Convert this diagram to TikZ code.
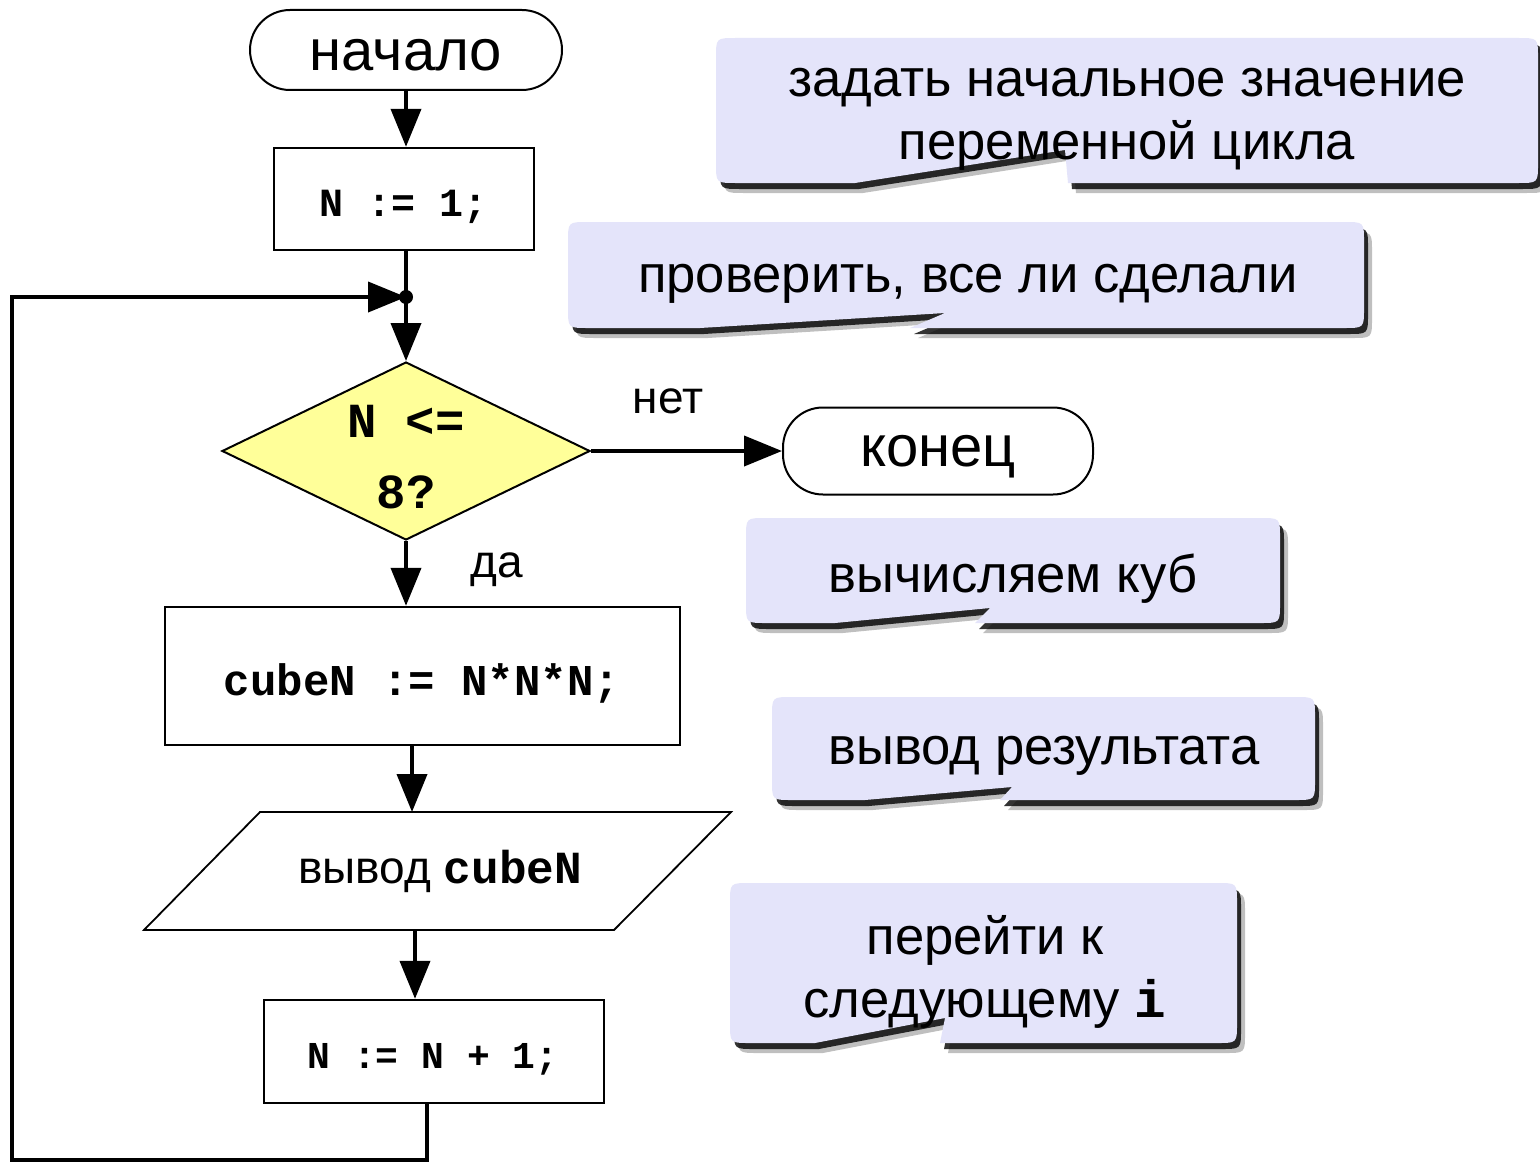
\documentclass[tikz,border=0pt]{standalone}
\usepackage{fontspec}
\setmainfont{Liberation Sans}
\newfontfamily\monofam{Liberation Mono}
\usetikzlibrary{arrows.meta,shapes.geometric}
\definecolor{lav}{RGB}{228,228,250}
\definecolor{ylw}{RGB}{255,255,153}
% x1 y1 x2 y2 notchLeft tipX tipY notchRight
\newcommand\bubble[8]{%
  \fill[black,opacity=.25,shift={(8,10)}] ({#1+20},#2) -- ({#3-20},#2) .. controls (#3,#2) .. (#3,{#2+20}) -- (#3,{#4-20}) .. controls (#3,#4) .. ({#3-20},#4) -- (#8,#4) -- (#6,#7) -- (#5,#4) -- ({#1+20},#4) .. controls (#1,#4) .. (#1,{#4-20}) -- (#1,{#2+20}) .. controls (#1,#2) .. ({#1+20},#2) -- cycle;
  \fill[black,opacity=.8,shift={(4,6)}] ({#1+20},#2) -- ({#3-20},#2) .. controls (#3,#2) .. (#3,{#2+20}) -- (#3,{#4-20}) .. controls (#3,#4) .. ({#3-20},#4) -- (#8,#4) -- (#6,#7) -- (#5,#4) -- ({#1+20},#4) .. controls (#1,#4) .. (#1,{#4-20}) -- (#1,{#2+20}) .. controls (#1,#2) .. ({#1+20},#2) -- cycle;
  \fill[lav] ({#1+20},#2) -- ({#3-20},#2) .. controls (#3,#2) .. (#3,{#2+20}) -- (#3,{#4-20}) .. controls (#3,#4) .. ({#3-20},#4) -- (#8,#4) -- (#6,#7) -- (#5,#4) -- ({#1+20},#4) .. controls (#1,#4) .. (#1,{#4-20}) -- (#1,{#2+20}) .. controls (#1,#2) .. ({#1+20},#2) -- cycle;
}
\tikzset{
  conn/.style={line width=2pt},
  arr/.style={line width=2pt,-{Triangle[length=19pt,width=15pt]}},
  term/.style={draw,line width=1pt,rounded corners=20pt,inner sep=0pt,fill=white},
  termtext/.style={font=\fontsize{29pt}{34pt}\selectfont,inner sep=0pt},
  proc/.style={draw,line width=1.2pt,fill=white,inner sep=0pt},
  code/.style={font=\monofam\bfseries\fontsize{#1}{35.5pt}\selectfont,inner sep=0pt},
  lbl/.style={font=\fontsize{23pt}{27pt}\selectfont,inner sep=0pt},
  bub/.style={font=\fontsize{26.3pt}{31.5pt}\selectfont,align=center,inner sep=0pt}
}
\begin{document}
\begin{tikzpicture}[x=0.5pt,y=-0.5pt]
\useasboundingbox (0,0) rectangle (1540,1161);
\fill[white] (0,0) rectangle (1540,1161);

% callouts
\bubble{716}{38}{1538}{183}{855}{1065}{150}{1068}
\node[bub] (c1) at (1127,119) {задать начальное значение\\переменной цикла};
\bubble{568}{222}{1364}{328}{700}{945}{313}{910}
\node[bub] (c2) at (968,284) {проверить, все ли сделали};
\bubble{746}{518}{1280}{623}{835}{990}{608}{975}
\node[bub] (c3) at (1013,579) {вычисляем куб};
\bubble{772}{697}{1315}{800}{865}{1012}{787}{1000}
\node[bub] (c4) at (1044,756) {вывод результата};
\bubble{730}{883}{1237}{1043}{815}{945}{1018}{940}
\node[bub] (c5) at (985,972) {перейти к\\следующему {\monofam\bfseries i}};

% flowchart
\node[term,minimum width=156pt,minimum height=40pt] (start) at (406,50) {};
\node[termtext] (startt) at (406,55) {начало};
\node[proc,minimum width=130pt,minimum height=51pt] (n1) at (404,199) {};
\node[code=20pt] (n1t) at (404,207) {N := 1;};
\coordinate (j) at (406,297);
\node[diamond,draw,fill=ylw,line width=1pt,minimum width=184pt,minimum height=89pt,inner sep=0pt] (cond) at (406,451) {};
\node[code=24.5pt,align=center] (condt) at (406,457) {N <=\\8?};
\node[term,minimum width=155pt,minimum height=43.5pt] (end) at (938,451) {};
\node[termtext] (endt) at (938,457) {конец};
\node[proc,minimum width=257.5pt,minimum height=69pt] (cube) at (422.5,676) {};
\node[code=22pt] (cubet) at (422,683) {cubeN := N*N*N;};
\coordinate (pTL) at (260,812);
\coordinate (pTR) at (731,812);
\coordinate (pBR) at (614,930);
\coordinate (pBL) at (144,930);
\draw[line width=0.9pt,fill=white] (pTL) -- (pTR) -- (pBR) -- (pBL) -- cycle;
\coordinate (pin) at (412,812);
\coordinate (pout) at (415,930);
\node[inner sep=0pt,font=\fontsize{23pt}{27pt}\selectfont] (outt) at (440,871) {вывод {\monofam\bfseries cubeN}};
\node[proc,minimum width=170pt,minimum height=51.5pt] (inc) at (434,1051.5) {};
\node[code=19pt] (inct) at (433,1059) {N := N + 1;};

\node[lbl] (no) at (668,401) {нет};
\node[lbl] (yes) at (497,570) {да};

\coordinate (lb) at (12,1160);
\coordinate (lt) at (12,297);

\draw[arr] (start.south) -- (start.south |- n1.north);
\draw[conn] (n1.south -| j) -- (j);
\draw[arr] (j) -- (cond.north);
\draw[arr] (cond.east) -- (end.west);
\draw[arr] (cond.south) -- (cond.south |- cube.north);
\draw[arr] (cube.south -| pin) -- (pin);
\draw[arr] (pout) -- (pout |- inc.north);
\draw[arr,line join=miter] ([xshift=-3.5pt]inc.south) |- (lb) -- (lt) -- (j);
\fill (j) circle (3.5pt);
\end{tikzpicture}
\end{document}
